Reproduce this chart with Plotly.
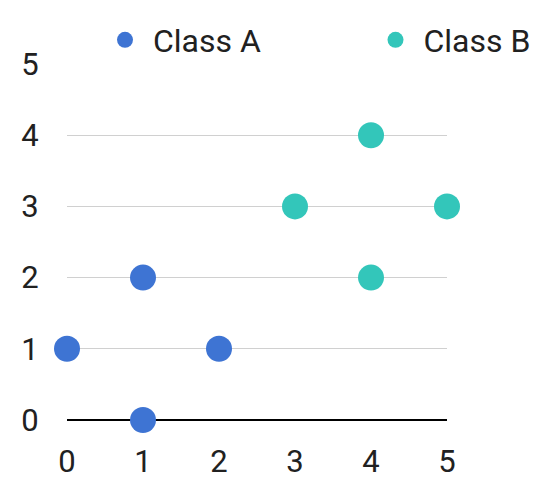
import plotly.graph_objects as go

# Point data for the two classes
class_a_x = [0, 1, 1, 2]
class_a_y = [1, 0, 2, 1]
class_b_x = [3, 4, 4, 5]
class_b_y = [3, 2, 4, 3]

x_ticks = [0, 1, 2, 3, 4, 5]
y_ticks = [0, 1, 2, 3, 4, 5]

FONT = "Roboto"
TEXT_COLOR = "#212121"
W, H = 548, 479
ML, MR, MT, MB = 67, 101, 64, 59
PW, PH = W - ML - MR, H - MT - MB
EDGE = 12.5  # keep legends clear of the page edge so margins stay fixed

fig = go.Figure()
fig.add_trace(go.Scatter(
    x=class_a_x, y=class_a_y, mode="markers", name="Class A",
    marker=dict(size=26, color="#3e74d3"), cliponaxis=False, legend="legend",
))
fig.add_trace(go.Scatter(
    x=class_b_x, y=class_b_y, mode="markers", name="Class B",
    marker=dict(size=26, color="#33c6ba"), cliponaxis=False, legend="legend2",
))

# Legend entries sit in the top margin, one legend per class
legend_style = dict(
    yanchor="top", y=1 + (MT - EDGE) / PH, font=dict(size=32),
    itemsizing="trace", itemwidth=46, bgcolor="rgba(0,0,0,0)",
)

fig.update_layout(
    width=W, height=H,
    margin=dict(l=ML, r=MR, t=MT, b=MB),
    paper_bgcolor="white", plot_bgcolor="white",
    font=dict(family=FONT, size=31, color=TEXT_COLOR),
    showlegend=True,
    legend=dict(x=(97 - ML) / PW, xanchor="left", **legend_style),
    legend2=dict(x=(W - EDGE - ML) / PW, xanchor="right", **legend_style),
    xaxis=dict(
        range=[0, 5], tickvals=x_ticks, showgrid=False, zeroline=False,
        showline=False, ticks="outside", ticklen=14, tickcolor="rgba(0,0,0,0)",
        fixedrange=True, automargin=False,
    ),
    yaxis=dict(
        range=[0, 5], tickvals=y_ticks, showgrid=True, gridcolor="#d0d0d0",
        gridwidth=1, zeroline=True, zerolinecolor="#000000", zerolinewidth=1.5,
        showline=False, ticks="outside", ticklen=21, tickcolor="rgba(0,0,0,0)",
        fixedrange=True, automargin=False,
    ),
)

fig.write_html("out.html")
